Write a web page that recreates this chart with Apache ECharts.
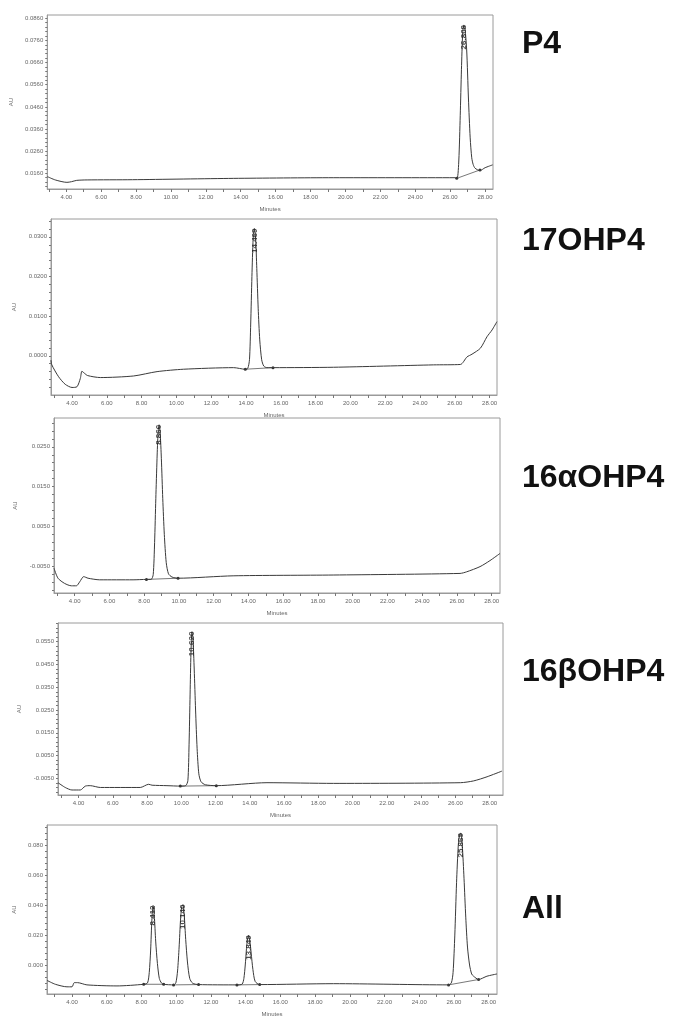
<!DOCTYPE html>
<html><head><meta charset="utf-8">
<script src="https://cdn.jsdelivr.net/npm/echarts@6/dist/echarts.min.js"></script>
<style>html,body{margin:0;padding:0;background:#fff}#c{width:674px;height:1018px}</style>
</head><body><div id="c"></div><script>
// ---- data ----
const panelNames = ['P4', '17OHP4', '16αOHP4', '16βOHP4', 'All'];
const xTickLabels = [4, 6, 8, 10, 12, 14, 16, 18, 20, 22, 24, 26, 28];

const p4YTicks = [0.0160, 0.0260, 0.0360, 0.0460, 0.0560, 0.0660, 0.0760, 0.0860];
const ohp17YTicks = [0.0000, 0.0100, 0.0200, 0.0300];
const ohp16aYTicks = [-0.0050, 0.0050, 0.0150, 0.0250];
const ohp16bYTicks = [-0.0050, 0.0050, 0.0150, 0.0250, 0.0350, 0.0450, 0.0550];
const allYTicks = [0.000, 0.020, 0.040, 0.060, 0.080];

const p4Trace = [[2.92,0.0145],[3.37,0.0130],[4.04,0.0119],[4.30,0.0122],[4.60,0.0128],[5.20,0.0130],[7.80,0.0131],[13.60,0.0137],[19.30,0.0140],[26.30,0.0140],[26.41,0.0140],[26.50,0.0220],[26.58,0.0420],[26.65,0.0630],[26.72,0.0793],[26.78,0.0830],[26.85,0.0815],[26.95,0.0717],[27.05,0.0500],[27.15,0.0320],[27.24,0.0230],[27.32,0.0200],[27.43,0.0183],[27.71,0.0172],[28.00,0.0185],[28.44,0.0198]];
const p4Peaks = [[26.78, 0.0830, '26.808']];
const p4Baselines = [[[26.38,0.0137],[27.71,0.0175]]];

const ohp17Trace = [[2.79,-0.0011],[2.84,-0.0023],[3.23,-0.0053],[3.61,-0.0072],[4.00,-0.0080],[4.29,-0.0078],[4.48,-0.0057],[4.57,-0.0039],[4.71,-0.0044],[4.90,-0.0050],[5.63,-0.0055],[7.54,-0.0051],[8.89,-0.0040],[10.41,-0.0034],[13.29,-0.0030],[13.96,-0.0034],[14.10,-0.0032],[14.20,-0.0010],[14.27,0.0080],[14.34,0.0200],[14.41,0.0295],[14.48,0.0321],[14.55,0.0300],[14.62,0.0220],[14.70,0.0120],[14.79,0.0040],[14.90,-0.0010],[15.02,-0.0026],[15.20,-0.0030],[15.55,-0.0030],[19.03,-0.0029],[24.78,-0.0023],[26.32,-0.0022],[26.70,-0.0003],[26.99,0.0004],[27.47,0.0019],[27.85,0.0048],[28.14,0.0065],[28.42,0.0086]];
const ohp17Peaks = [[14.48, 0.0321, '14.469']];
const ohp17Baselines = [[[13.96,-0.0034],[15.55,-0.0030]]];

const ohp16aTrace = [[2.81,-0.0054],[3.04,-0.0079],[3.42,-0.0092],[3.81,-0.0098],[4.10,-0.0098],[4.29,-0.0088],[4.52,-0.0075],[4.77,-0.0079],[5.44,-0.0083],[7.36,-0.0083],[8.13,-0.0082],[8.40,-0.0082],[8.52,-0.0070],[8.60,0.0010],[8.67,0.0120],[8.74,0.0220],[8.80,0.0285],[8.86,0.0305],[8.92,0.0285],[8.99,0.0220],[9.07,0.0120],[9.16,0.0030],[9.27,-0.0040],[9.40,-0.0068],[9.60,-0.0076],[9.95,-0.0079],[13.12,-0.0073],[18.88,-0.0071],[26.18,-0.0067],[26.56,-0.0063],[27.33,-0.0050],[27.90,-0.0035],[28.48,-0.0017]];
const ohp16aPeaks = [[8.86, 0.0305, '8.860']];
const ohp16aBaselines = [[[8.13,-0.0082],[9.95,-0.0079]]];

const ohp16bTrace = [[2.80,-0.0069],[3.22,-0.0090],[3.61,-0.0101],[4.10,-0.0101],[4.39,-0.0084],[4.68,-0.0082],[5.27,-0.0090],[7.60,-0.0090],[8.09,-0.0076],[8.29,-0.0080],[9.16,-0.0082],[9.94,-0.0084],[10.25,-0.0082],[10.38,-0.0060],[10.45,0.0100],[10.51,0.0320],[10.56,0.0500],[10.62,0.0594],[10.68,0.0560],[10.75,0.0430],[10.83,0.0250],[10.92,0.0080],[11.02,-0.0030],[11.15,-0.0065],[11.40,-0.0078],[12.04,-0.0082],[15.00,-0.0069],[18.89,-0.0072],[26.29,-0.0069],[27.07,-0.0061],[27.85,-0.0043],[28.72,-0.0018]];
const ohp16bPeaks = [[10.62, 0.0594, '10.620']];
const ohp16bBaselines = [[[9.94,-0.0084],[12.04,-0.0082]]];

const allTrace = [[2.56,-0.0103],[3.04,-0.0129],[3.71,-0.0146],[4.00,-0.0146],[4.13,-0.0118],[4.32,-0.0118],[4.86,-0.0133],[6.59,-0.0140],[8.13,-0.0129],[8.35,-0.0120],[8.45,-0.0050],[8.53,0.0100],[8.60,0.0300],[8.67,0.0398],[8.74,0.0330],[8.82,0.0160],[8.92,0.0010],[9.03,-0.0090],[9.15,-0.0120],[9.28,-0.0129],[9.85,-0.0133],[9.98,-0.0120],[10.08,-0.0040],[10.17,0.0120],[10.25,0.0300],[10.32,0.0390],[10.39,0.0404],[10.46,0.0340],[10.55,0.0170],[10.65,0.0020],[10.78,-0.0090],[10.95,-0.0122],[11.29,-0.0131],[13.50,-0.0133],[13.80,-0.0128],[13.90,-0.0090],[13.98,0.0000],[14.05,0.0110],[14.11,0.0175],[14.17,0.0198],[14.24,0.0165],[14.32,0.0080],[14.42,-0.0030],[14.55,-0.0110],[14.81,-0.0131],[19.07,-0.0125],[25.69,-0.0133],[25.85,-0.0120],[25.95,-0.0050],[26.05,0.0200],[26.15,0.0550],[26.25,0.0800],[26.33,0.0875],[26.40,0.0882],[26.48,0.0800],[26.58,0.0580],[26.68,0.0320],[26.78,0.0120],[26.90,0.0000],[27.02,-0.0060],[27.13,-0.0075],[27.42,-0.0097],[27.90,-0.0075],[28.48,-0.0060]];
const allPeaks = [[8.67, 0.0398, '8.412'], [10.39, 0.0404, '10.140'], [14.17, 0.0198, '13.849'], [26.40, 0.0882, '25.869']];
const allBaselines = [[[8.13,-0.0129],[9.28,-0.0129]], [[9.85,-0.0133],[11.29,-0.0131]], [[13.50,-0.0133],[14.81,-0.0131]], [[25.69,-0.0133],[27.42,-0.0097]]];

// ---- layout ----
const panels = [
  {trace: p4Trace, peaks: p4Peaks, baselines: p4Baselines, yTicks: p4YTicks, dec: 4,
   box: {left: 47, top: 15, width: 446, height: 174}, x: [2.912, 28.458], y: [0.0089, 0.0875], labelY: 44},
  {trace: ohp17Trace, peaks: ohp17Peaks, baselines: ohp17Baselines, yTicks: ohp17YTicks, dec: 4,
   box: {left: 51, top: 219, width: 446, height: 176}, x: [2.793, 28.425], y: [-0.0099, 0.0345], labelY: 241},
  {trace: ohp16aTrace, peaks: ohp16aPeaks, baselines: ohp16aBaselines, yTicks: ohp16aYTicks, dec: 4,
   box: {left: 54, top: 418, width: 446, height: 175}, x: [2.81, 28.48], y: [-0.0116, 0.0322], labelY: 478},
  {trace: ohp16bTrace, peaks: ohp16bPeaks, baselines: ohp16bBaselines, yTicks: ohp16bYTicks, dec: 4,
   box: {left: 58, top: 623, width: 445, height: 172}, x: [2.797, 28.78], y: [-0.0123, 0.0632], labelY: 672},
  {trace: allTrace, peaks: allPeaks, baselines: allBaselines, yTicks: allYTicks, dec: 3,
   box: {left: 47, top: 825, width: 450, height: 175}, x: [2.56, 28.48], y: [-0.0194, 0.0936], labelY: 909}
];

const axisColor = '#9a9a9a';
const textColor = '#666';
const grid = [], xAxis = [], yAxis = [], series = [], graphic = [];

panels.forEach((p, i) => {
  grid.push(Object.assign({show: true, borderColor: axisColor, borderWidth: 1, backgroundColor: '#fff'}, p.box));
  const xMinor = [];
  for (let t = Math.ceil(p.x[0]); t <= p.x[1]; t += 1) xMinor.push(t);
  xAxis.push({
    type: 'value', gridIndex: i, min: p.x[0], max: p.x[1],
    axisLine: {show: true, onZero: false, lineStyle: {color: axisColor, width: 1}},
    axisTick: {show: true, length: 3, customValues: xMinor, lineStyle: {color: '#777'}},
    axisLabel: {customValues: xTickLabels, formatter: v => v.toFixed(2), fontSize: 6, color: textColor, margin: 5, fontFamily: 'Liberation Sans'},
    splitLine: {show: false},
    name: 'Minutes', nameLocation: 'middle', nameGap: 17,
    nameTextStyle: {fontSize: 6, color: textColor, fontFamily: 'Liberation Sans'}
  });
  const step = p.yTicks[1] - p.yTicks[0];
  const yMinor = [];
  const start = p.yTicks[0] - step * Math.ceil((p.yTicks[0] - p.y[0]) / step);
  for (let k = 0; ; k++) {
    const v = start + k * step / 5;
    if (v > p.y[1]) break;
    if (v >= p.y[0]) yMinor.push(v);
  }
  yAxis.push({
    type: 'value', gridIndex: i, min: p.y[0], max: p.y[1],
    axisLine: {show: true, onZero: false, lineStyle: {color: axisColor, width: 1}},
    axisTick: {show: true, length: 2, customValues: yMinor, lineStyle: {color: '#777'}},
    axisLabel: {customValues: p.yTicks, formatter: v => v.toFixed(p.dec), fontSize: 6, color: textColor, margin: 4, fontFamily: 'Liberation Sans'},
    splitLine: {show: false},
    name: 'AU', nameLocation: 'middle', nameGap: 30, nameRotate: 90,
    nameTextStyle: {fontSize: 6, color: textColor, fontFamily: 'Liberation Sans'}
  });
  series.push({
    type: 'line', xAxisIndex: i, yAxisIndex: i, data: p.trace, showSymbol: false,
    smooth: 0.25, lineStyle: {color: '#3a3a3a', width: 1}, silent: true, z: 3
  });
  p.baselines.forEach(seg => {
    series.push({
      type: 'line', xAxisIndex: i, yAxisIndex: i, data: seg, showSymbol: true, symbol: 'circle', symbolSize: 3,
      lineStyle: {color: '#555', width: 0.8}, itemStyle: {color: '#333'}, silent: true, z: 2
    });
  });
  series.push({
    type: 'scatter', xAxisIndex: i, yAxisIndex: i, symbolSize: 0.1, itemStyle: {color: 'rgba(0,0,0,0)'},
    data: p.peaks.map(pk => ({value: [pk[0], pk[1]], name: pk[2]})),
    label: {show: true, formatter: '{b}', position: 'inside', rotate: 90, align: 'right', verticalAlign: 'middle',
      fontSize: 8, fontWeight: 'bold', color: '#222', fontFamily: 'Liberation Sans'},
    silent: true, z: 5
  });
  graphic.push({
    type: 'text', x: 522, y: p.labelY,
    style: {text: panelNames[i], fill: '#111', font: 'bold 32px "Liberation Sans", Arial, sans-serif',
      verticalAlign: 'middle', textVerticalAlign: 'middle', align: 'left'}
  });
});

const chart = echarts.init(document.getElementById('c'), null, {renderer: 'canvas'});
chart.setOption({
  backgroundColor: '#fff', animation: false,
  grid, xAxis, yAxis, series, graphic
});
</script></body></html>
